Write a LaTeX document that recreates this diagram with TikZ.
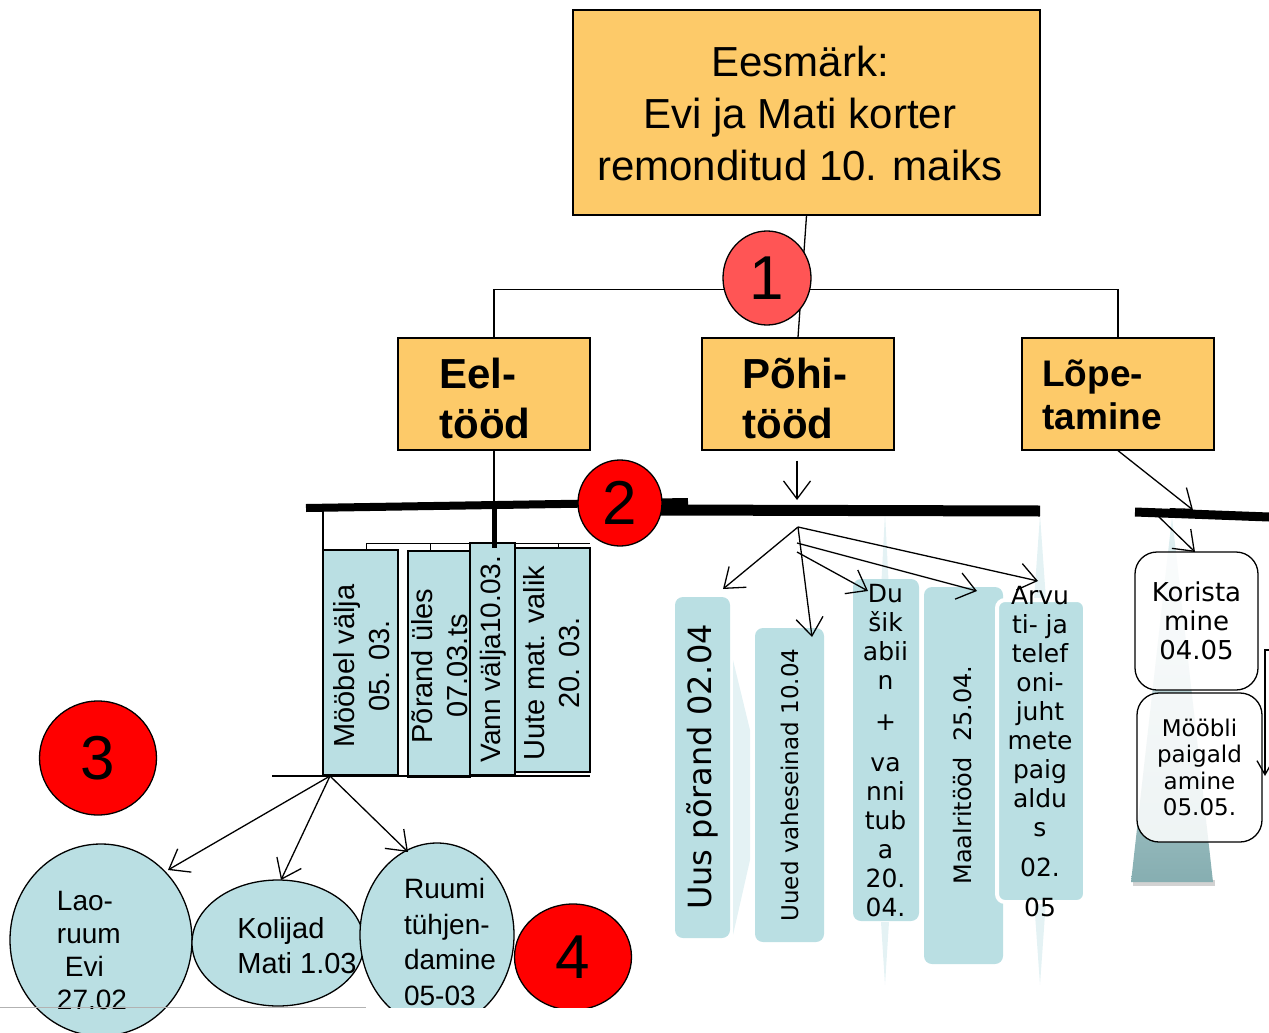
\documentclass[tikz,border=0pt]{standalone}
\usepackage{fontspec}
\setmainfont{Liberation Sans}
\newfontfamily\dv{DejaVu Sans}
\usetikzlibrary{arrows.meta,shapes.geometric,calc}
\definecolor{orY}{HTML}{FDCA69}
\definecolor{teal1}{HTML}{BADFE3}
\definecolor{red1}{HTML}{FF5555}
\definecolor{faint}{HTML}{E4F2F4}
\definecolor{tealdark}{HTML}{86AEB1}
\begin{document}
\begin{tikzpicture}[x=1pt,y=-1pt,
  orbox/.style={draw=black,fill=orY,line width=1.3pt,inner sep=0pt},
  tbox/.style={draw=black,fill=teal1,line width=1.5pt,inner sep=0pt},
  rbox/.style={fill=teal1,rounded corners=8pt,inner sep=0pt},
  redc/.style={ellipse,draw=black,fill=red,line width=1.3pt,inner sep=0pt,font=\fontsize{62}{62}\selectfont},
  ell/.style={ellipse,draw=black,fill=teal1,line width=1.3pt,inner sep=0pt},
  wbox/.style={draw=black,line width=1.3pt,fill=white,fill opacity=0.85,text opacity=1,rounded corners=22pt,inner sep=0pt,align=center},
  arr/.style={-{Straight Barb[length=18pt,width=27pt]},line width=1.3pt},
  ln/.style={line width=1.3pt},
  rtxt/.style={rotate=90,align=center,font=\fontsize{29}{35}\selectfont},
]
\useasboundingbox (0,0) rectangle (1269,1033);

% faint decorations
\fill[faint] (733,660) -- (750,730) -- (750,860) -- (733,935) -- cycle;
\fill[faint] (885,513) -- (889,590) -- (881,590) -- cycle;
\fill[faint] (881,922) -- (889,922) -- (885,985) -- cycle;
\fill[faint] (1040,515) -- (1046,600) -- (1034,600) -- cycle;
\fill[faint] (1034,900) -- (1046,900) -- (1040,985) -- cycle;

% top box
\node[orbox,minimum width=467pt,minimum height=205pt] (goal) at (806.5,112.5) {};
\node[font=\fontsize{42}{52}\selectfont,align=center] (goaltxt) at (800,113) {Eesmärk:\\Evi ja Mati korter\\remonditud 10. maiks};

% level 1 boxes
\node[orbox,minimum width=192pt,minimum height=112pt] (eel) at (494,394) {};
\node[orbox,minimum width=192pt,minimum height=112pt] (pohi) at (798,394) {};
\node[orbox,minimum width=192pt,minimum height=112pt] (lope) at (1118,394) {};
\node[font=\bfseries\fontsize{42}{50}\selectfont,align=left] (eeltxt) at (485,398) {Eel-\\tööd};
\node[font=\bfseries\fontsize{42}{50}\selectfont,align=left] (pohitxt) at (795,398) {Põhi-\\tööd};
\node[font=\bfseries\fontsize{37}{43}\selectfont,align=left] (lopetxt) at (1102,395) {Lõpe-\\tamine};

\draw[ln] (goal.south) -- (pohi.north);
\draw[ln] (eel.north) -- ++(0,-48) -| (lope.north);
\node[redc,fill=red1,minimum width=88pt,minimum height=94pt] (n1) at (767,278) {1};

% bars
\coordinate (bL1) at (306,508); \coordinate (bL2) at (688,502);
\coordinate (bR1) at (660,510); \coordinate (bR2) at (1040,511);
\draw[line width=8pt] (bL1) -- (bL2);
\draw[line width=11pt] (bR1) -- (bR2);
\coordinate (eelbar) at (494,505); \coordinate (eelend) at (494,548);
\draw[ln] (eel.south) -- (eelbar);
\draw[line width=5pt] (eelbar) -- (eelend);

% left column boxes
\coordinate (m1) at (323,508); \coordinate (m2) at (323,550);
\draw[ln] (m1) -- (m2);
\coordinate (br0) at (366,551); \coordinate (br1) at (366,543); \coordinate (br2) at (590,543);
\draw[line width=1pt] (br0) -- (br1) -- (br2);
\coordinate (tk1) at (430,543); \coordinate (tk2) at (430,551);
\coordinate (tk3) at (558,543); \coordinate (tk4) at (558,549);
\draw[line width=1pt] (tk1) -- (tk2) (tk3) -- (tk4);

\node[tbox,minimum width=75pt,minimum height=225pt] (moob) at (360.5,662.5) {};
\node[tbox,minimum width=62pt,minimum height=226pt] (porand) at (439,664) {};
\node[tbox,minimum width=75pt,minimum height=224pt] (uute) at (552.5,660) {};
\node[tbox,minimum width=45pt,minimum height=232pt] (vann) at (492.5,659) {};
\draw[line width=5pt] (494,543) -- (eelend);
\node[rtxt] (moobtxt) at (362,666) {Mööbel välja\\05. 03.};
\node[rtxt] (porandtxt) at (440,666) {Põrand üles\\07.03.ts};
\node[rtxt,font=\fontsize{28}{34}\selectfont] (vanntxt) at (493,659) {Vann välja10.03.};
\node[rtxt] (uutetxt) at (552,663) {Uute mat. valik\\20. 03.};

\node[redc,minimum width=84pt,minimum height=86pt] (n2) at (620,503) {2};

% line under boxes and arrows to ellipses
\coordinate (hl1) at (272,776); \coordinate (hl2) at (590,776); \coordinate (apx) at (330,776);
\draw[ln] (hl1) -- (hl2);
\node[ell,minimum width=182pt,minimum height=192pt] (lao) at (101,940) {};
\node[ell,minimum width=172pt,minimum height=126pt] (kol) at (278,943) {};
\node[ell,minimum width=154pt,minimum height=184pt] (ruu) at (437,935) {};
\coordinate (laoT) at (168,870); \coordinate (kolT) at (281,880); \coordinate (ruuT) at (408,852);
\draw[arr] (apx) -- (laoT);
\draw[arr] (apx) -- (kolT);
\draw[arr] (apx) -- (ruuT);
\node[font=\fontsize{28}{33}\selectfont,align=left] (laotxt) at (92,950) {Lao-\\ruum\\\hspace{8pt}Evi\\27.02};
\node[font=\fontsize{29}{35}\selectfont,align=left] (koltxt) at (297,946) {Kolijad\\Mati 1.03};
\node[font=\fontsize{28}{35.5}\selectfont,align=left] (ruutxt) at (450,942) {Ruumi\\tühjen-\\damine\\05-03};
\node[redc,minimum width=117pt,minimum height=114pt] (n3) at (98,758) {3};
\node[redc,minimum width=117pt,minimum height=106pt] (n4) at (573,957) {4};

% bottom cut
\fill[white] (196,1008) rectangle (1269,1033);
\draw[gray!60,line width=1pt] (0,1007) -- (366,1007);

% middle column
\node[rbox,minimum width=55pt,minimum height=341pt] (uus) at (702.5,767.5) {};
\node[rbox,minimum width=69pt,minimum height=314pt] (uued) at (789.5,785) {};
\node[rbox,minimum width=66pt,minimum height=342pt] (dus) at (886,750) {};
\node[rbox,minimum width=79pt,minimum height=377pt] (maal) at (963.5,775.5) {};
\node[rbox,draw=white,line width=4pt,minimum width=88pt,minimum height=302pt] (arv) at (1041,751) {};
\node[rotate=90,font=\dv\fontsize{32}{38}\selectfont] (uustxt) at (702,767) {Uus põrand 02.04};
\node[rotate=90,font=\dv\fontsize{23}{28}\selectfont] (uuedtxt) at (790,785) {Uued vaheseinad 10.04};
\node[rotate=90,font=\dv\fontsize{24}{28}\selectfont] (maaltxt) at (963,775) {Maalritööd\ \ 25.04.};
\node[font=\dv\fontsize{25}{29}\selectfont,align=center] (dustxt) at (885.5,751) {Du\\šik\\abii\\n\\[12pt]+\\[12pt]va\\nni\\tub\\a\\20.\\04.};
\node[font=\dv\fontsize{25}{29}\selectfont,align=center] (arvtxt) at (1040,752) {Arvu\\ti- ja\\telef\\oni-\\juht\\mete\\paig\\aldu\\s\\[11pt]02.\\[11pt]05};

\coordinate (pb) at (797,500);
\draw[arr] ($(pohi.south)+(-1,10)$) -- (pb);
\coordinate (ap) at (798,527); \coordinate (ap2) at (797,543); \coordinate (ap3) at (797,552);
\coordinate (uusT) at (723,589); \coordinate (uuedT) at (812,637); \coordinate (dusT) at (868,591);
\coordinate (maalT) at (977,591); \coordinate (arvT) at (1038,581);
\draw[arr] (ap) -- (uusT);
\draw[arr] (ap) -- (uuedT);
\draw[arr] (ap3) -- (dusT);
\draw[arr] (ap2) -- (maalT);
\draw[arr] (ap) -- (arvT);

% right column
\fill[gray!35] (1133,880) rectangle (1215,886);
\shade[top color=faint,bottom color=tealdark] (1172,517) -- (1213,882) -- (1131,882) -- cycle;
\coordinate (rb1) at (1135,512); \coordinate (rb2) at (1269,517);
\coordinate (rbT) at (1193,510);
\draw[arr] (lope.south) -- (rbT);
\draw[line width=9pt] (rb1) -- (rb2);
\node[wbox,minimum width=123pt,minimum height=138pt,font=\dv\fontsize{26}{29}\selectfont] (kor) at (1196.5,621) {Korista\\mine\\04.05};
\node[wbox,minimum width=125pt,minimum height=149pt,font=\dv\fontsize{23}{26.5}\selectfont] (moobli) at (1199.5,767.5) {Mööbli\\paigald\\amine\\05.05.};
\coordinate (ka) at (1157,515); \coordinate (kaT) at (1195,552);
\draw[arr] (ka) -- (kaT);
\coordinate (ra1) at (1270,650); \coordinate (ra2) at (1265,650); \coordinate (ra3) at (1265,776);
\draw[ln,-{Straight Barb[length=14pt,width=16pt]}] (ra1) -- (ra2) -- (ra3);
\end{tikzpicture}
\end{document}
